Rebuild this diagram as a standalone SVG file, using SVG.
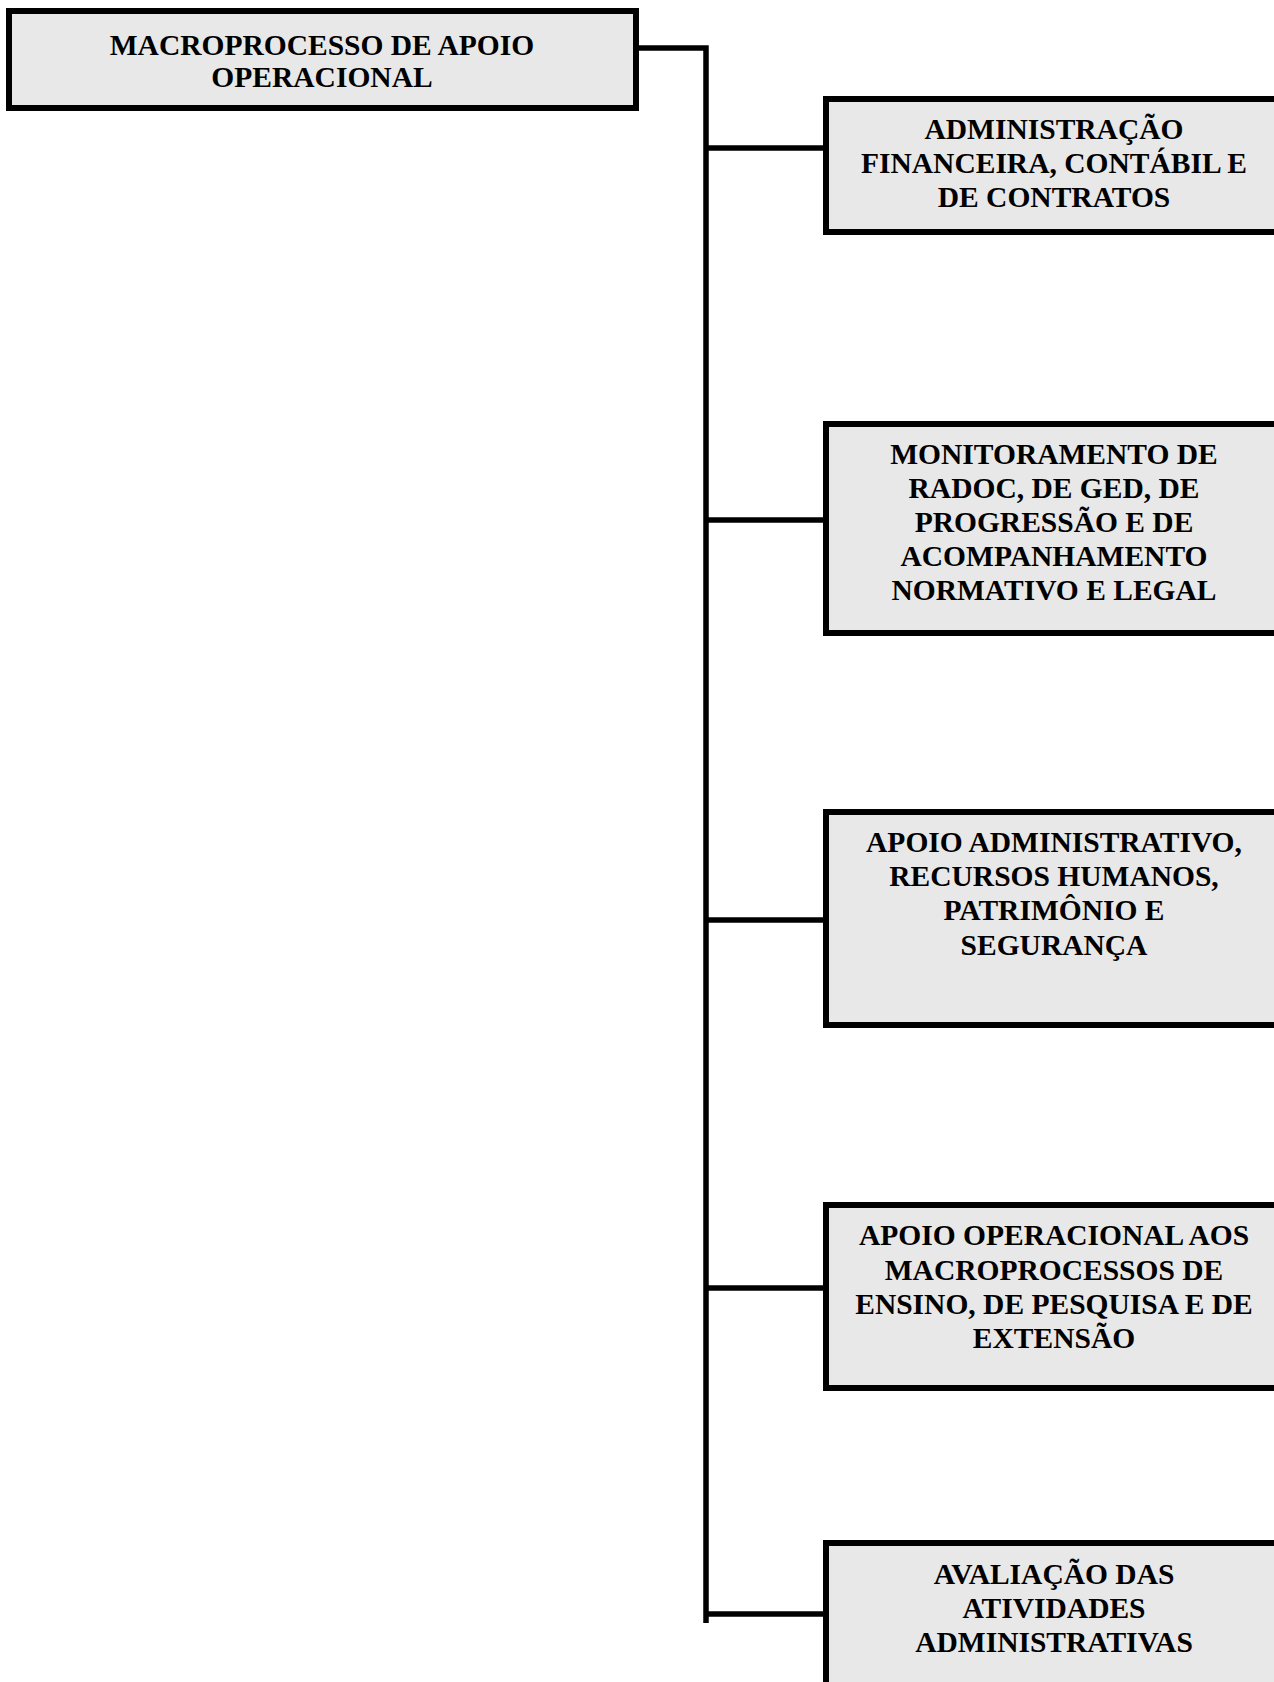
<svg xmlns="http://www.w3.org/2000/svg" width="1274" height="1682" viewBox="0 0 1274 1682">
<style>
.box{fill:#e8e8e8;stroke:#000;stroke-width:6}
.lbl{font-family:"Liberation Serif","Times New Roman",serif;font-weight:bold;font-size:29.5px;fill:#000;text-anchor:middle}
.conn{stroke:#000;stroke-width:5.5;fill:none}
</style>
<rect width="1274" height="1682" fill="#fff"/>
<g id="connectors">
<polyline class="conn" points="636,48 706,48 706,1623"/>
<line class="conn" x1="706" y1="148" x2="826" y2="148"/>
<line class="conn" x1="706" y1="520" x2="826" y2="520"/>
<line class="conn" x1="706" y1="920" x2="826" y2="920"/>
<line class="conn" x1="706" y1="1288" x2="826" y2="1288"/>
<line class="conn" x1="706" y1="1614" x2="826" y2="1614"/>
</g>
<g id="root">
<rect class="box" x="9" y="11" width="627" height="97"/>
<text class="lbl" x="322" y="55">MACROPROCESSO DE APOIO</text>
<text class="lbl" x="322" y="87">OPERACIONAL</text>
</g>
<g id="n1">
<rect class="box" x="826" y="99" width="470" height="133"/>
<text class="lbl" x="1054" y="139">ADMINISTRAÇÃO</text>
<text class="lbl" x="1054" y="173">FINANCEIRA, CONTÁBIL E</text>
<text class="lbl" x="1054" y="207">DE CONTRATOS</text>
</g>
<g id="n2">
<rect class="box" x="826" y="424" width="470" height="209"/>
<text class="lbl" x="1054" y="464">MONITORAMENTO DE</text>
<text class="lbl" x="1054" y="498">RADOC, DE GED, DE</text>
<text class="lbl" x="1054" y="532">PROGRESSÃO E DE</text>
<text class="lbl" x="1054" y="566">ACOMPANHAMENTO</text>
<text class="lbl" x="1054" y="600">NORMATIVO E LEGAL</text>
</g>
<g id="n3">
<rect class="box" x="826" y="812" width="470" height="213"/>
<text class="lbl" x="1054" y="852">APOIO ADMINISTRATIVO,</text>
<text class="lbl" x="1054" y="886">RECURSOS HUMANOS,</text>
<text class="lbl" x="1054" y="920">PATRIMÔNIO E</text>
<text class="lbl" x="1054" y="955">SEGURANÇA</text>
</g>
<g id="n4">
<rect class="box" x="826" y="1205" width="470" height="183"/>
<text class="lbl" x="1054" y="1245">APOIO OPERACIONAL AOS</text>
<text class="lbl" x="1054" y="1280">MACROPROCESSOS DE</text>
<text class="lbl" x="1054" y="1314">ENSINO, DE PESQUISA E DE</text>
<text class="lbl" x="1054" y="1348">EXTENSÃO</text>
</g>
<g id="n5">
<rect class="box" x="826" y="1543" width="470" height="160"/>
<text class="lbl" x="1054" y="1584">AVALIAÇÃO DAS</text>
<text class="lbl" x="1054" y="1618">ATIVIDADES</text>
<text class="lbl" x="1054" y="1652">ADMINISTRATIVAS</text>
</g>
</svg>
